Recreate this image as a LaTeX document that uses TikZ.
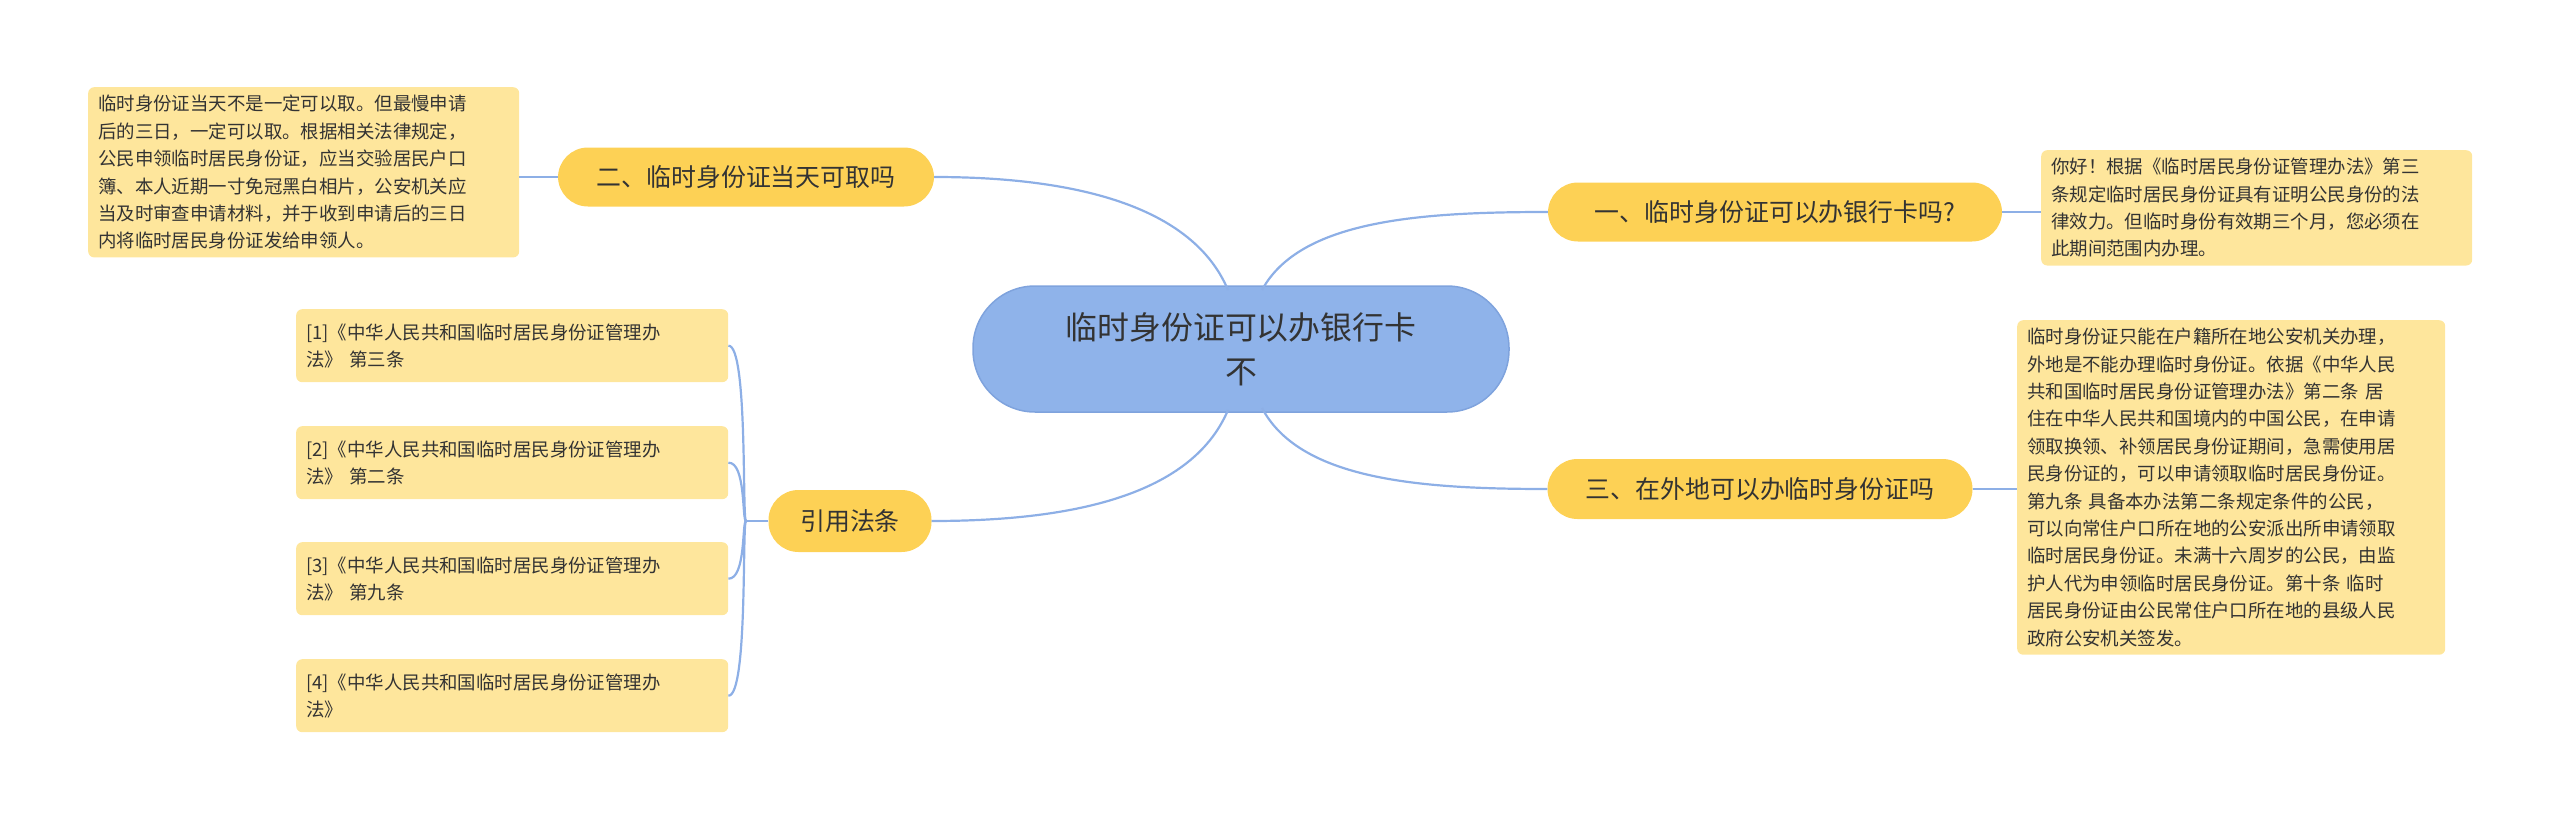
\documentclass[tikz,border=0pt]{standalone}
\usepackage{fontspec}
\setmainfont{Noto Sans CJK SC}
\definecolor{lnk}{HTML}{8DAFE6}
\definecolor{ctr}{HTML}{8FB3EA}
\definecolor{ctrb}{HTML}{7FA3DD}
\definecolor{mid}{HTML}{FDD155}
\definecolor{leaf}{HTML}{FEE69C}
\definecolor{txt}{HTML}{333333}
\tikzset{
 midnode/.style={fill=mid,rounded corners=30bp,text=txt,font=\fontsize{25}{30}\selectfont,inner sep=0pt},
 leafnode/.style={fill=leaf,rounded corners=6bp,text=txt,font=\fontsize{18.5}{27.5}\selectfont,align=left,inner xsep=10bp,inner ysep=8bp,anchor=north west},
 conn/.style={draw=lnk,line width=2.2bp}
}
\begin{document}
\begin{tikzpicture}[x=1bp,y=-1bp]
\useasboundingbox (0,0) rectangle (2560,822);
% central
\node[fill=ctr,draw=ctrb,line width=1.5bp,rounded corners=62bp,minimum width=536bp,minimum height=126bp,text=txt,align=center,font=\fontsize{32}{44}\selectfont] (c) at (1241,349) {临时身份证可以办银行卡\\不};
% mid nodes
\node[midnode,minimum width=454bp,minimum height=59bp] (n1) at (1775,212) {一、临时身份证可以办银行卡吗?};
\node[midnode,minimum width=425bp,minimum height=60bp] (n3) at (1760,489) {三、在外地可以办临时身份证吗};
\node[midnode,minimum width=376bp,minimum height=59bp] (n2) at (746,177) {二、临时身份证当天可取吗};
\node[midnode,minimum width=163bp,minimum height=62bp] (n4) at (850,521) {引用法条};
% leaves
\node[leafnode,text width=411bp] (l1) at (2041,150) {你好！根据《临时居民身份证管理办法》第三\\条规定临时居民身份证具有证明公民身份的法\\律效力。但临时身份有效期三个月，您必须在\\此期间范围内办理。};
\node[leafnode,text width=408bp] (l3) at (2017,320) {临时身份证只能在户籍所在地公安机关办理，\\外地是不能办理临时身份证。依据《中华人民\\共和国临时居民身份证管理办法》第二条 居\\住在中华人民共和国境内的中国公民，在申请\\领取换领、补领居民身份证期间，急需使用居\\民身份证的，可以申请领取临时居民身份证。\\第九条 具备本办法第二条规定条件的公民，\\可以向常住户口所在地的公安派出所申请领取\\临时居民身份证。未满十六周岁的公民，由监\\护人代为申领临时居民身份证。第十条 临时\\居民身份证由公民常住户口所在地的县级人民\\政府公安机关签发。};
\node[leafnode,text width=411bp] (l2) at (88,87) {临时身份证当天不是一定可以取。但最慢申请\\后的三日，一定可以取。根据相关法律规定，\\公民申领临时居民身份证，应当交验居民户口\\簿、本人近期一寸免冠黑白相片，公安机关应\\当及时审查申请材料，并于收到申请后的三日\\内将临时居民身份证发给申领人。};
\node[leafnode,text width=412bp,minimum height=73bp] (r1) at (296,309) {[1]《中华人民共和国临时居民身份证管理办\\法》 第三条};
\node[leafnode,text width=412bp,minimum height=73bp] (r2) at (296,426) {[2]《中华人民共和国临时居民身份证管理办\\法》 第二条};
\node[leafnode,text width=412bp,minimum height=73bp] (r3) at (296,542) {[3]《中华人民共和国临时居民身份证管理办\\法》 第九条};
\node[leafnode,text width=412bp,minimum height=73bp] (r4) at (296,659) {[4]《中华人民共和国临时居民身份证管理办\\法》};
% connectors
\begin{scope}[on background layer/.style={}]
\draw[conn] (1262,290) .. controls (1300,220) and (1420,212) .. (n1.west);
\draw[conn] (1262,408) .. controls (1300,480) and (1420,489) .. (n3.west);
\draw[conn] (1228,290) .. controls (1190,200) and (1060,177) .. (n2.east);
\draw[conn] (1228,410) .. controls (1190,500) and (1060,521) .. (n4.east);
\draw[conn] (n1.east) -- (l1.west |- n1.east);
\draw[conn] (n3.east) -- (l3.west |- n3.east);
\draw[conn] (n2.west) -- (l2.east |- n2.west);
\coordinate (b) at (746,521);
\draw[conn] (n4.west) -- (b);
\draw[conn] (b) .. controls (742,521) and (748,345) .. (r1.east);
\draw[conn] (b) .. controls (742,521) and (746,462) .. (r2.east);
\draw[conn] (b) .. controls (742,521) and (746,579) .. (r3.east);
\draw[conn] (b) .. controls (742,521) and (748,696) .. (r4.east);
\end{scope}
\end{tikzpicture}
\end{document}
